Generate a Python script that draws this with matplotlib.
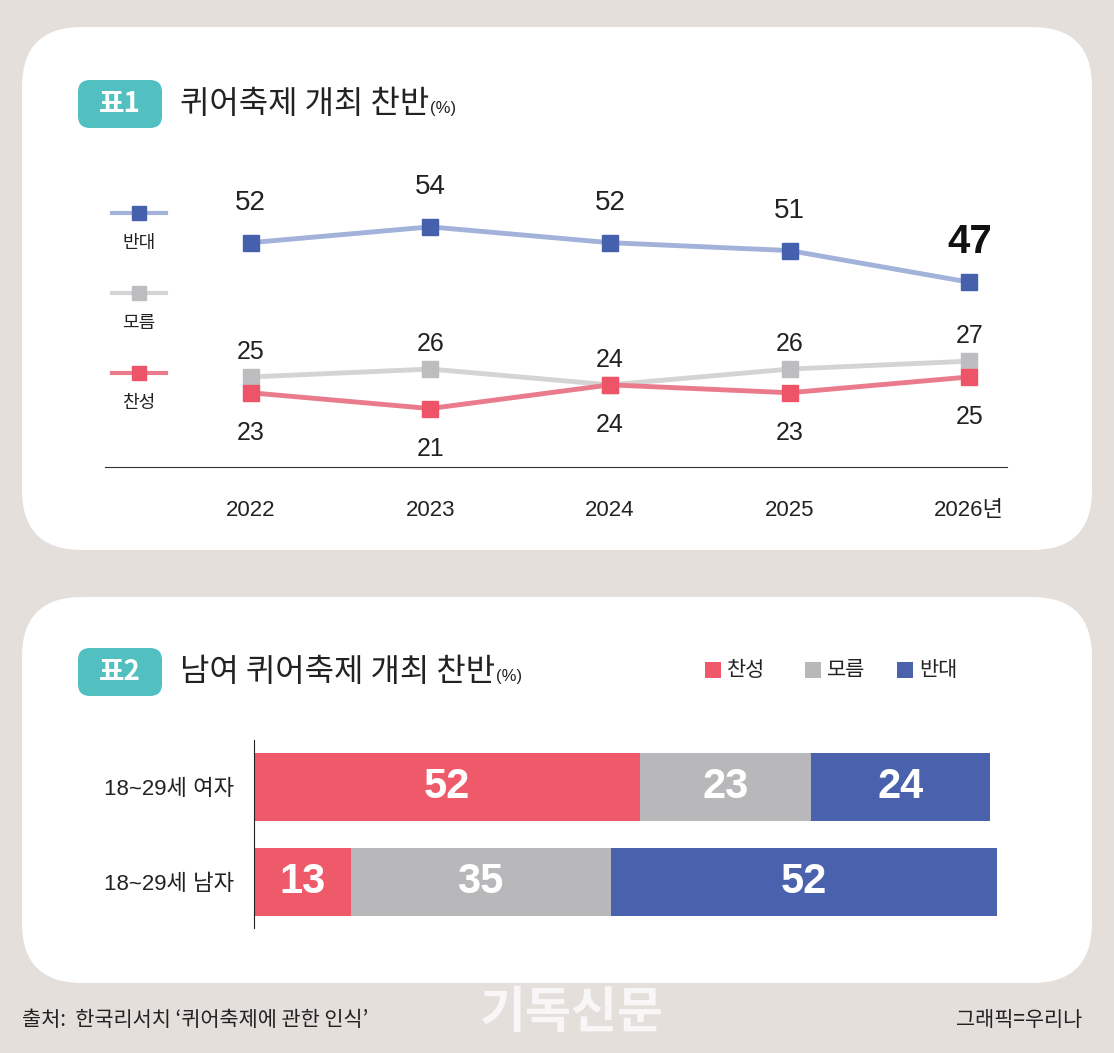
import matplotlib
matplotlib.use("Agg")
import matplotlib.pyplot as plt
from matplotlib.patches import FancyBboxPatch, Rectangle

plt.rcParams['font.family'] = ['Liberation Sans', 'Noto Sans CJK KR', 'DejaVu Sans']

years = [2022, 2023, 2024, 2025, 2026]
year_labels = ['2022', '2023', '2024', '2025', '2026년']
oppose = [52, 54, 52, 51, 47]
unknown = [25, 26, 24, 26, 27]
support = [23, 21, 24, 23, 25]

groups = ['18~29세 여자', '18~29세 남자']
bar_support = [52, 13]
bar_unknown = [23, 35]
bar_oppose = [24, 52]

BLUE_L, BLUE_M = '#a2b2da', '#4560ad'
GRAY_L, GRAY_M = '#d4d4d4', '#bdbdc0'
RED_L, RED_M = '#e97b8c', '#ee5468'
BAR_R, BAR_G, BAR_B = '#ef5a6b', '#b8b8bb', '#4a62ad'
TEAL = '#52bfc1'
KR = ['Noto Sans CJK KR', 'DejaVu Sans']

W, H = 1114, 1053
fig = plt.figure(figsize=(W/100, H/100), dpi=100)
fig.patch.set_facecolor('#e5dfdc')

def fx(x): return x / W
def fy(y): return 1 - y / H

bg = fig.add_axes([0, 0, 1, 1])
bg.set_xlim(0, W); bg.set_ylim(H, 0); bg.axis('off')
for (x0, y0, x1, y1) in [(22, 27, 1092, 550), (22, 597, 1092, 983)]:
    bg.add_patch(FancyBboxPatch((x0, y0), x1-x0, y1-y0,
                 boxstyle="round,pad=0,rounding_size=60", fc='white', ec='none'))
for (y0, lab, title, tx) in [(80, '표1', '퀴어축제 개최 찬반', 180), (648, '표2', '남여 퀴어축제 개최 찬반', 180)]:
    bg.add_patch(FancyBboxPatch((78, y0), 84, 48, boxstyle="round,pad=0,rounding_size=12", fc=TEAL, ec='none'))
    bg.text(120, y0+24, lab, color='white', fontsize=20, fontweight='bold', ha='center', va='center', family=KR)
    t = bg.text(tx, y0+24, title, color='#222', fontsize=23, fontweight='medium', ha='left', va='center', family=KR)
    fig.canvas.draw()
    bb = t.get_window_extent()
    bg.text(bb.x1 + 1, y0+28, '(%)', color='#222', fontsize=12, ha='left', va='center')

for (y, col_l, col_m, lab) in [(213, BLUE_L, BLUE_M, '반대'), (293, GRAY_L, GRAY_M, '모름'), (373, RED_L, RED_M, '찬성')]:
    bg.plot([112, 166], [y, y], color=col_l, lw=3)
    bg.plot([139], [y], marker='s', ms=10, color=col_m)
    bg.text(139, y+30, lab, fontsize=13, ha='center', va='center', color='#222', family=KR)

ax = fig.add_axes([fx(105), fy(467), fx(1007)-fx(105), fy(170)-fy(467)])
ax.set_xlim(2021.19, 2026.21)
ax.set_ylim(13.6, 51.2)
SHIFT = 10  # broken-axis style offset for the 반대 series
opp_plot = [v - SHIFT for v in oppose]
ax.plot(years, opp_plot, color=BLUE_L, lw=3.5, zorder=2)
ax.plot(years, unknown, color=GRAY_L, lw=3.5, zorder=2)
ax.plot(years, support, color=RED_L, lw=3.5, zorder=2)
ax.plot(years, opp_plot, 's', ms=11, color=BLUE_M, zorder=3)
ax.plot(years, unknown, 's', ms=11, color=GRAY_M, zorder=4)
ax.plot(years, support, 's', ms=11, color=RED_M, zorder=5)
for i, yr in enumerate(years):
    if i == 4:
        ax.annotate(str(oppose[i]), (yr, opp_plot[i]), xytext=(0, 40), textcoords='offset pixels',
                    ha='center', va='center', fontsize=29, fontweight='bold', color='#111')
    else:
        ax.annotate(str(oppose[i]), (yr, opp_plot[i]), xytext=(0, 40), textcoords='offset pixels',
                    ha='center', va='center', fontsize=20, color='#222')
    ax.annotate(str(unknown[i]), (yr, unknown[i]), xytext=(0, 25), textcoords='offset pixels',
                ha='center', va='center', fontsize=18, color='#222')
    ax.annotate(str(support[i]), (yr, support[i]), xytext=(0, -40), textcoords='offset pixels',
                ha='center', va='center', fontsize=18, color='#222')
for s in ['top', 'right', 'left']:
    ax.spines[s].set_visible(False)
ax.spines['bottom'].set_color('#333')
ax.set_yticks([])
ax.set_xticks(years)
ax.set_xticklabels(year_labels, fontsize=16, color='#222')
ax.tick_params(axis='x', length=0, pad=24)
ax.patch.set_alpha(0)

bx = fig.add_axes([fx(254), fy(928), fx(997)-fx(254), fy(740)-fy(928)])
bx.set_xlim(0, 100)
bx.set_ylim(1.485, -0.495)
pos = [0, 1]
h = 0.716
lefts = [0, 0]
for vals, col in [(bar_support, BAR_R), (bar_unknown, BAR_G), (bar_oppose, BAR_B)]:
    bx.barh(pos, vals, left=lefts, height=h, color=col)
    for p, v, l in zip(pos, vals, lefts):
        bx.text(l + v/2, p, str(v), color='white', fontsize=30, fontweight='bold', ha='center', va='center')
    lefts = [a + b for a, b in zip(lefts, vals)]
for s in ['top', 'right', 'bottom']:
    bx.spines[s].set_visible(False)
bx.spines['left'].set_color('#222')
bx.set_xticks([])
bx.set_yticks(pos)
bx.set_yticklabels(groups, fontsize=16, color='#222')
bx.tick_params(axis='y', length=0, pad=14)
bx.patch.set_alpha(0)

for (x, col, lab) in [(705, BAR_R, '찬성'), (805, BAR_G, '모름'), (897, BAR_B, '반대')]:
    bg.add_patch(Rectangle((x, 662), 16, 16, fc=col, ec='none'))
    bg.text(x+22, 670, lab, fontsize=15, ha='left', va='center', color='#222', family=KR)

bg.text(22, 1020, "출처:  한국리서치 ‘퀴어축제에 관한 인식’", fontsize=15, ha='left', va='center', color='#222', family=KR)
bg.text(1082, 1020, "그래픽=우리나", fontsize=15, ha='right', va='center', color='#222', family=KR)
bg.text(572, 1013, "기독신문", fontsize=36, fontweight='bold', ha='center', va='center', color='white', alpha=0.75, family=KR)

fig.savefig('out.png', dpi=100, facecolor=fig.get_facecolor())
